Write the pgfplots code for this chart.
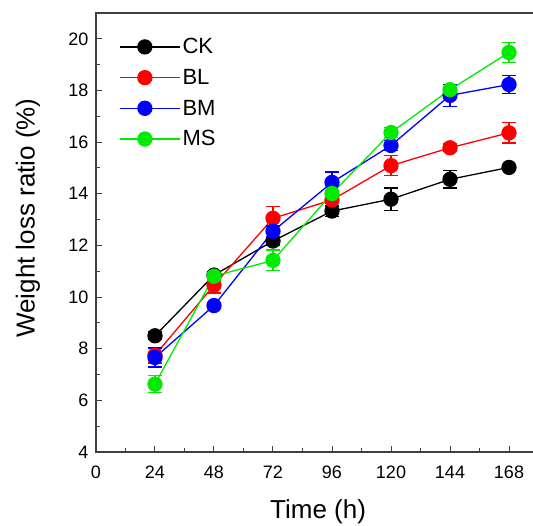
\documentclass[border=0pt]{standalone}
\usepackage{pgfplots}
\pgfplotsset{compat=1.18}
\usepackage{fontspec}
\setmainfont{Liberation Sans}
\definecolor{cgreen}{RGB}{0,235,0}
\begin{document}
\begin{tikzpicture}
\begin{axis}[name=ax, scale only axis, width=442.5pt, height=439pt,
  xmin=0, xmax=180, ymin=4, ymax=21,
  xtick={0,24,48,72,96,120,144,168}, ytick={4,6,8,10,12,14,16,18,20},
  minor x tick num=1, minor y tick num=1,
  tick align=inside, tick pos=left,
  major tick length=6pt, minor tick length=4pt,
  axis line style={line width=1.1pt, black!75},
  every tick/.style={line width=1pt, black!75},
  /pgf/number format/assume math mode=true,
  tick label style={font=\fontsize{18}{20}\selectfont},
  yticklabel style={xshift=-4pt},
  xticklabel style={anchor=north, text height=13pt, text depth=0pt, yshift=-10pt},
  xlabel={Time (h)}, ylabel={Weight loss ratio (\%)},
  label style={font=\fontsize{26}{30}\selectfont},
  xlabel style={at={(axis description cs:0.502,-0.1367)}, anchor=center},
  ylabel style={at={(axis description cs:-0.1537,0.533)}, anchor=center},
  legend style={at={(axis description cs:0.052,0.947)}, anchor=north west, draw=none, fill=none,
    font=\fontsize{22}{24}\selectfont, row sep=10pt, inner sep=0pt},
  legend cell align=left,
  legend image code/.code={\draw[mark repeat=2, mark phase=2] plot coordinates {(0pt,0pt) (25pt,0pt) (50pt,0pt)}; \path (0pt,0pt) -- (60pt,0pt);},
  every axis plot/.append style={line width=1.3pt, mark=*, mark size=7pt},
  error bars/y dir=both, error bars/y explicit, error bars/error mark=-,
  error bars/error bar style={line width=1.3pt},
  error bars/error mark options={rotate=90, line width=1.3pt, mark size=7pt},
]
\addplot[black, mark options={fill=black}] coordinates {
(24,8.50) +- (0,0.15) (48,10.85) +- (0,0.15) (72,12.17) +- (0,0.15) (96,13.33) +- (0,0.2)
(120,13.79) +- (0,0.43) (144,14.56) +- (0,0.34) (168,15.02) +- (0,0.1)};
\addlegendentry{CK}
\addplot[red, mark options={fill=red}] coordinates {
(24,7.75) +- (0,0.3) (48,10.46) +- (0,0.3) (72,13.05) +- (0,0.45) (96,13.76) +- (0,0.15)
(120,15.09) +- (0,0.39) (144,15.78) +- (0,0.15) (168,16.36) +- (0,0.39)};
\addlegendentry{BL}
\addplot[blue, mark options={fill=blue}] coordinates {
(24,7.66) +- (0,0.37) (48,9.67) +- (0,0.1) (72,12.55) +- (0,0.2) (96,14.44) +- (0,0.4)
(120,15.87) +- (0,0.2) (144,17.81) +- (0,0.43) (168,18.23) +- (0,0.34)};
\addlegendentry{BM}
\addplot[cgreen, mark options={fill=cgreen}] coordinates {
(24,6.63) +- (0,0.33) (48,10.81) +- (0,0.15) (72,11.42) +- (0,0.4) (96,14.01) +- (0,0.3)
(120,16.37) +- (0,0.2) (144,18.03) +- (0,0.1) (168,19.47) +- (0,0.39)};
\addlegendentry{MS}
\end{axis}
\pgfresetboundingbox
\path ([xshift=-96pt,yshift=-73pt]ax.south west) rectangle ([xshift=437pt,yshift=13pt]ax.north west);
\end{tikzpicture}
\end{document}
